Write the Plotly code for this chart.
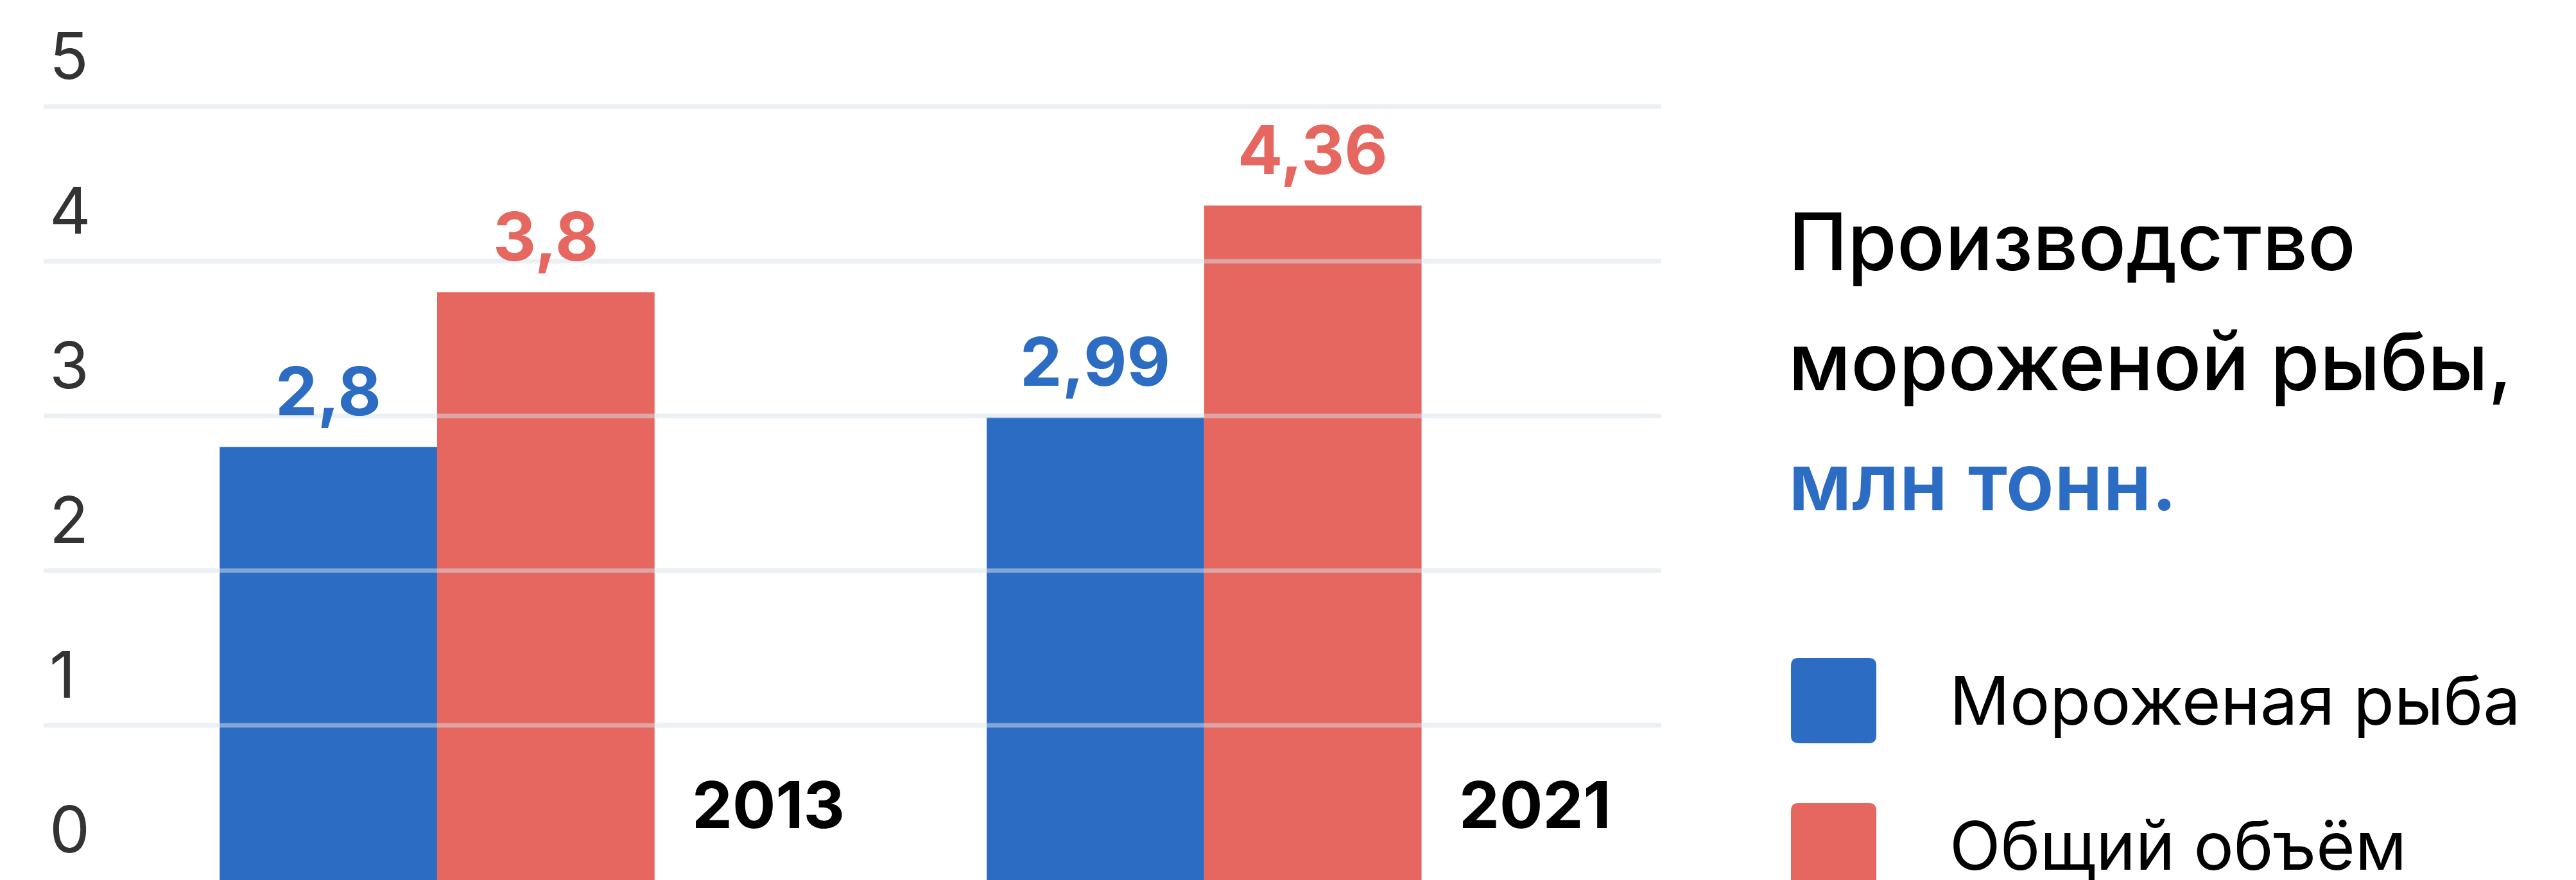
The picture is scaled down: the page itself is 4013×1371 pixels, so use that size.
import plotly.graph_objects as go

# ---- data ----
years = ["2013", "2021"]
series_names = ["Мороженая рыба", "Общий объём"]
frozen_fish = [2.8, 2.99]
total_volume = [3.8, 4.36]
series_colors = ["#2c6cc2", "#e6675f"]
y_ticks = [0, 1, 2, 3, 4, 5]
title_lines = ["Производство", "мороженой рыбы,"]
unit_line = "млн тонн."

W, H = 4013, 1371
ML, MR = 68, 1425
PLOT_W = W - ML - MR
BARGAP = 0.433

def px(x):
    return (x - ML) / PLOT_W

def py(y):
    return (H - y) / H

FONT = "Inter, Roboto, sans-serif"

fig = go.Figure()
for name, vals, col in zip(series_names, [frozen_fish, total_volume], series_colors):
    fig.add_trace(go.Bar(x=years, y=vals, name=name, marker=dict(color=col, line=dict(width=0)),
                         showlegend=False, hoverinfo="skip"))

# gridlines drawn above bars
shapes = []
for v in y_ticks[1:]:
    shapes.append(dict(type="line", xref="paper", yref="y", x0=0, x1=1, y0=v, y1=v,
                       line=dict(color="rgba(215,225,235,0.5)", width=7), layer="above"))

annotations = []
# value labels
half = (1 - BARGAP) / 2
for si, (vals, col) in enumerate(zip([frozen_fish, total_volume], series_colors)):
    off = -half / 2 if si == 0 else half / 2
    for i, v in enumerate(vals):
        annotations.append(dict(x=i + off, y=v, xref="x", yref="y", text=str(v).replace(".", ","),
                                showarrow=False, xanchor="center", yanchor="bottom", yshift=22,
                                font=dict(family=FONT, size=104, color=col, weight=700)))
# year labels
for i, yr in enumerate(years):
    annotations.append(dict(x=i + half, y=0, xref="x", yref="y", text=yr, showarrow=False,
                            xanchor="left", yanchor="bottom", xshift=56, yshift=55,
                            font=dict(family=FONT, size=100, color="#000", weight=700)))

# title
for k, (line, base) in enumerate(zip(title_lines + [unit_line], [428, 615, 802])):
    is_unit = k == 2
    annotations.append(dict(x=px(2784), y=py(base + 25), xref="paper", yref="paper", text=line,
                            showarrow=False, xanchor="left", yanchor="bottom",
                            font=dict(family=FONT, size=124, color=series_colors[0] if is_unit else "#000",
                                      weight=600 if is_unit else 500)))

# legend
def rrect(x0, y0, x1, y1, r):
    pts = [("M", x0 + r, y0), ("L", x1 - r, y0), ("Q", x1, y0, x1, y0 + r), ("L", x1, y1 - r),
           ("Q", x1, y1, x1 - r, y1), ("L", x0 + r, y1), ("Q", x0, y1, x0, y1 - r),
           ("L", x0, y0 + r), ("Q", x0, y0, x0 + r, y0)]
    s = ""
    for p in pts:
        cmd, coords = p[0], p[1:]
        conv = []
        for j in range(0, len(coords), 2):
            conv.append(f"{px(coords[j]):.5f},{py(coords[j+1]):.5f}")
        s += cmd + " ".join(conv) + " "
    return s + "Z"

for k, (name, col) in enumerate(zip(series_names, series_colors)):
    top = 1025 + k * 226
    shapes.append(dict(type="path", xref="paper", yref="paper", path=rrect(2790, top, 2923, top + 133, 12),
                       fillcolor=col, line=dict(width=0), layer="above"))
    annotations.append(dict(x=px(3035), y=py(top + 66), xref="paper", yref="paper", text=name,
                            showarrow=False, xanchor="left", yanchor="middle",
                            font=dict(family=FONT, size=104, color="#000")))

fig.update_layout(
    width=W, height=H,
    margin=dict(l=ML, r=MR, t=0, b=0, pad=0),
    paper_bgcolor="#ffffff", plot_bgcolor="#ffffff",
    barmode="group", bargap=BARGAP, bargroupgap=0,
    showlegend=False,
    shapes=shapes, annotations=annotations,
    xaxis=dict(type="category", range=[-0.513, 1.596], showticklabels=False, showgrid=False,
               zeroline=False, showline=False, ticks=""),
    yaxis=dict(range=[0, 5.689], tickvals=y_ticks, ticktext=[str(t) for t in y_ticks],
               showgrid=False, zeroline=False, showline=False, ticks="",
               ticklabelposition="inside", ticklabeloverflow="allow",
               ticklabelshift=-78, ticklabelstandoff=6,
               tickfont=dict(family=FONT, size=100, color="#333333")),
)

fig.write_html("out.html", config={"displayModeBar": False},
               post_script="document.body.style.margin='0';document.body.style.overflow='hidden';")
